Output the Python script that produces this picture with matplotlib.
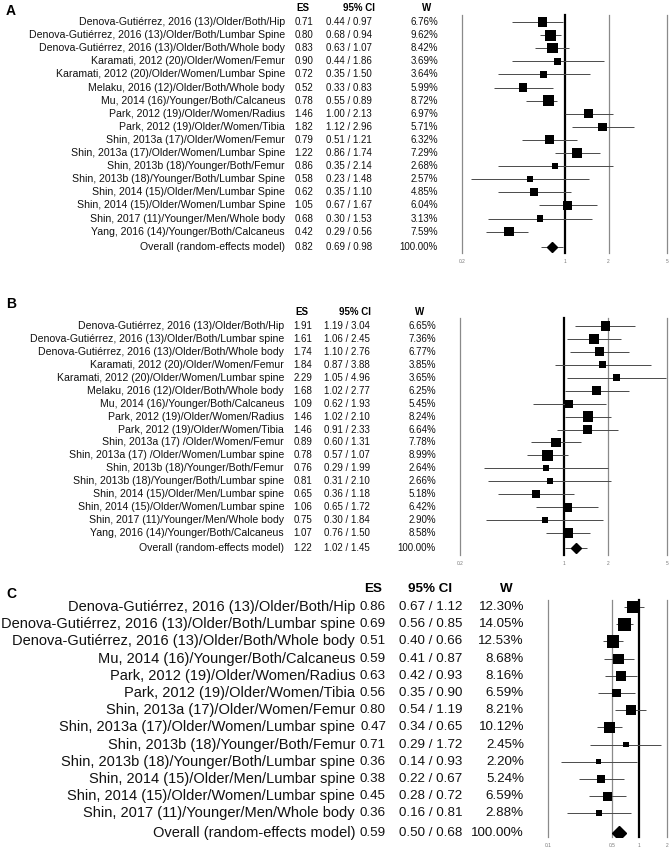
import matplotlib
matplotlib.use("Agg")
import matplotlib.pyplot as plt
import matplotlib.transforms as mtrans

plt.rcParams['font.family'] = ['Liberation Sans', 'DejaVu Sans']

# ---- panel A ----
labels_a = [
    "Denova-Gutiérrez, 2016 (13)/Older/Both/Hip",
    "Denova-Gutiérrez, 2016 (13)/Older/Both/Lumbar Spine",
    "Denova-Gutiérrez, 2016 (13)/Older/Both/Whole body",
    "Karamati, 2012 (20)/Older/Women/Femur",
    "Karamati, 2012 (20)/Older/Women/Lumbar Spine",
    "Melaku, 2016 (12)/Older/Both/Whole body",
    "Mu, 2014 (16)/Younger/Both/Calcaneus",
    "Park, 2012 (19)/Older/Women/Radius",
    "Park, 2012 (19)/Older/Women/Tibia",
    "Shin, 2013a (17)/Older/Women/Femur",
    "Shin, 2013a (17)/Older/Women/Lumbar Spine",
    "Shin, 2013b (18)/Younger/Both/Femur",
    "Shin, 2013b (18)/Younger/Both/Lumbar Spine",
    "Shin, 2014 (15)/Older/Men/Lumbar Spine",
    "Shin, 2014 (15)/Older/Women/Lumbar Spine",
    "Shin, 2017 (11)/Younger/Men/Whole body",
    "Yang, 2016 (14)/Younger/Both/Calcaneus",
]
es_a = [0.71, 0.80, 0.83, 0.90, 0.72, 0.52, 0.78, 1.46, 1.82, 0.79, 1.22, 0.86, 0.58, 0.62, 1.05, 0.68, 0.42]
lo_a = [0.44, 0.68, 0.63, 0.44, 0.35, 0.33, 0.55, 1.00, 1.12, 0.51, 0.86, 0.35, 0.23, 0.35, 0.67, 0.30, 0.29]
hi_a = [0.97, 0.94, 1.07, 1.86, 1.50, 0.83, 0.89, 2.13, 2.96, 1.21, 1.74, 2.14, 1.48, 1.10, 1.67, 1.53, 0.56]
w_a = [6.76, 9.62, 8.42, 3.69, 3.64, 5.99, 8.72, 6.97, 5.71, 6.32, 7.29, 2.68, 2.57, 4.85, 6.04, 3.13, 7.59]
overall_a = (0.82, 0.69, 0.98)

# ---- panel B ----
labels_b = [
    "Denova-Gutiérrez, 2016 (13)/Older/Both/Hip",
    "Denova-Gutiérrez, 2016 (13)/Older/Both/Lumbar spine",
    "Denova-Gutiérrez, 2016 (13)/Older/Both/Whole body",
    "Karamati, 2012 (20)/Older/Women/Femur",
    "Karamati, 2012 (20)/Older/Women/Lumbar spine",
    "Melaku, 2016 (12)/Older/Both/Whole body",
    "Mu, 2014 (16)/Younger/Both/Calcaneus",
    "Park, 2012 (19)/Older/Women/Radius",
    "Park, 2012 (19)/Older/Women/Tibia",
    "Shin, 2013a (17) /Older/Women/Femur",
    "Shin, 2013a (17) /Older/Women/Lumbar spine",
    "Shin, 2013b (18)/Younger/Both/Femur",
    "Shin, 2013b (18)/Younger/Both/Lumbar spine",
    "Shin, 2014 (15)/Older/Men/Lumbar spine",
    "Shin, 2014 (15)/Older/Women/Lumbar spine",
    "Shin, 2017 (11)/Younger/Men/Whole body",
    "Yang, 2016 (14)/Younger/Both/Calcaneus",
]
es_b = [1.91, 1.61, 1.74, 1.84, 2.29, 1.68, 1.09, 1.46, 1.46, 0.89, 0.78, 0.76, 0.81, 0.65, 1.06, 0.75, 1.07]
lo_b = [1.19, 1.06, 1.10, 0.87, 1.05, 1.02, 0.62, 1.02, 0.91, 0.60, 0.57, 0.29, 0.31, 0.36, 0.65, 0.30, 0.76]
hi_b = [3.04, 2.45, 2.76, 3.88, 4.96, 2.77, 1.93, 2.10, 2.33, 1.31, 1.07, 1.99, 2.10, 1.18, 1.72, 1.84, 1.50]
w_b = [6.65, 7.36, 6.77, 3.85, 3.65, 6.25, 5.45, 8.24, 6.64, 7.78, 8.99, 2.64, 2.66, 5.18, 6.42, 2.90, 8.58]
overall_b = (1.22, 1.02, 1.45)

# ---- panel C ----
labels_c = [
    "Denova-Gutiérrez, 2016 (13)/Older/Both/Hip",
    "Denova-Gutiérrez, 2016 (13)/Older/Both/Lumbar spine",
    "Denova-Gutiérrez, 2016 (13)/Older/Both/Whole body",
    "Mu, 2014 (16)/Younger/Both/Calcaneus",
    "Park, 2012 (19)/Older/Women/Radius",
    "Park, 2012 (19)/Older/Women/Tibia",
    "Shin, 2013a (17)/Older/Women/Femur",
    "Shin, 2013a (17)/Older/Women/Lumbar spine",
    "Shin, 2013b (18)/Younger/Both/Femur",
    "Shin, 2013b (18)/Younger/Both/Lumbar spine",
    "Shin, 2014 (15)/Older/Men/Lumbar spine",
    "Shin, 2014 (15)/Older/Women/Lumbar spine",
    "Shin, 2017 (11)/Younger/Men/Whole body",
]
es_c = [0.86, 0.69, 0.51, 0.59, 0.63, 0.56, 0.80, 0.47, 0.71, 0.36, 0.38, 0.45, 0.36]
lo_c = [0.67, 0.56, 0.40, 0.41, 0.42, 0.35, 0.54, 0.34, 0.29, 0.14, 0.22, 0.28, 0.16]
hi_c = [1.12, 0.85, 0.66, 0.87, 0.93, 0.90, 1.19, 0.65, 1.72, 0.93, 0.67, 0.72, 0.81]
w_c = [12.30, 14.05, 12.53, 8.68, 8.16, 6.59, 8.21, 10.12, 2.45, 2.20, 5.24, 6.59, 2.88]
overall_c = (0.59, 0.50, 0.68)

overall_label = "Overall (random-effects model)"

W, H = 669, 851
fig = plt.figure(figsize=(W / 100, H / 100), dpi=100)


def fx(px):
    return px / W


def forest(letter, letter_y, labels, es, lo, hi, w, overall,
           ax_x, top_px, row0, step, xlim, grey_lines, ticks,
           cols, fs_lab, fs_num, msize, dsize):
    n = len(labels)
    ys = list(range(n))
    y_over = n - 1 + 1.15
    top_idx = -(row0 - top_px[0]) / step
    bot_idx = (top_px[1] - row0) / step
    ax = fig.add_axes([fx(ax_x[0]), 1 - top_px[1] / H,
                       fx(ax_x[1] - ax_x[0]), (top_px[1] - top_px[0]) / H])
    ax.set_xscale('log')
    ax.set_xlim(*xlim)
    ax.set_ylim(bot_idx, top_idx)
    for s in ax.spines.values():
        s.set_visible(False)
    ax.set_yticks([])
    ax.set_xticks(ticks)
    ax.set_xticklabels([f"{t:g}" for t in ticks])
    ax.xaxis.set_minor_locator(plt.NullLocator())
    ax.tick_params(axis='x', length=0, labelsize=3.5, labelcolor='#777777', pad=4)

    for g in grey_lines:
        ax.axvline(g, color='#8a8a8a', lw=0.9, clip_on=False, zorder=1)
    ax.axvline(1, color='black', lw=1.6, clip_on=False, zorder=1)

    ax.hlines(ys, lo, hi, color='#4a4a4a', lw=0.7, zorder=2, clip_on=False)
    ax.scatter(es, ys, s=[msize * v for v in w], marker='s', color='black', zorder=3,
               linewidths=0)
    ax.hlines(y_over, overall[1], overall[2], color='#4a4a4a', lw=0.7, zorder=2)
    ax.plot([overall[0]], [y_over], marker='D', color='black', ms=dsize, zorder=3, lw=0)

    tr = mtrans.blended_transform_factory(fig.transFigure, ax.transData)
    lab_r, es_x, ci_l, w_r, hdr_es, hdr_ci, hdr_w = cols
    hy = -1.05
    ax.text(fx(hdr_es), hy, "ES", transform=tr, ha='center', va='center',
            fontsize=fs_num, fontweight='bold')
    ax.text(fx(hdr_ci), hy, "95% CI", transform=tr, ha='center', va='center',
            fontsize=fs_num, fontweight='bold')
    ax.text(fx(hdr_w), hy, "W", transform=tr, ha='center', va='center',
            fontsize=fs_num, fontweight='bold')
    rows = list(zip(labels, es, lo, hi, w, ys))
    rows.append((overall_label, overall[0], overall[1], overall[2], 100.0, y_over))
    for lab, e, l, h, wt, y in rows:
        ax.text(fx(lab_r), y, lab, transform=tr, ha='right', va='center',
                fontsize=fs_lab, color='#111111')
        ax.text(fx(es_x), y, f"{e:.2f}", transform=tr, ha='center', va='center',
                fontsize=fs_num, color='#111111')
        ax.text(fx(ci_l), y, f"{l:.2f} / {h:.2f}", transform=tr, ha='left',
                va='center', fontsize=fs_num, color='#111111')
        ax.text(fx(w_r), y, f"{wt:.2f}%", transform=tr, ha='right', va='center',
                fontsize=fs_num, color='#111111')
    fig.text(fx(6), 1 - letter_y / H, letter, fontsize=10, fontweight='bold',
             ha='left', va='center')
    return ax


forest("A", 11, labels_a, es_a, lo_a, hi_a, w_a, overall_a,
       ax_x=(462, 667), top_px=(15, 253), row0=22, step=13.1,
       xlim=(0.2, 5), grey_lines=[0.2, 2, 5], ticks=[0.2, 1, 2, 5],
       cols=(285, 304, 326, 438, 303, 359, 427), fs_lab=7.6, fs_num=7.0,
       msize=6.5, dsize=5.6)

forest("B", 304, labels_b, es_b, lo_b, hi_b, w_b, overall_b,
       ax_x=(460, 667), top_px=(318, 555), row0=326, step=12.94,
       xlim=(0.2, 5), grey_lines=[0.2, 2, 5], ticks=[0.2, 1, 2, 5],
       cols=(284, 303, 324, 436, 302, 355, 420), fs_lab=7.6, fs_num=7.0,
       msize=6.5, dsize=5.6)

forest("C", 594, labels_c, es_c, lo_c, hi_c, w_c, overall_c,
       ax_x=(548, 667), top_px=(600, 837), row0=607, step=17.2,
       xlim=(0.1, 2), grey_lines=[0.1, 0.5, 2], ticks=[0.1, 0.5, 1, 2],
       cols=(355, 373, 399, 524, 373, 430, 506), fs_lab=10.5, fs_num=9.6,
       msize=6.2, dsize=7.2)

fig.savefig("out.png", dpi=100)
